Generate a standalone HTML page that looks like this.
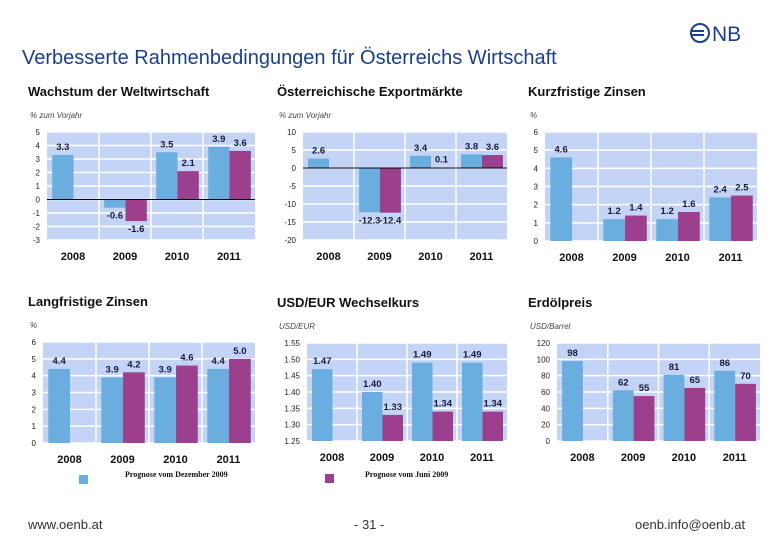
<!DOCTYPE html>
<html><head><meta charset="utf-8">
<style>
body{margin:0;background:#fff;}
#wrap{position:relative;width:780px;height:540px;overflow:hidden;font-family:"Liberation Sans",sans-serif;}
.t{position:absolute;white-space:nowrap;}
</style></head>
<body>
<div id="wrap">
<div class="t" style="left:22px;top:47px;font-size:20px;color:#1b3f8f;">Verbesserte Rahmenbedingungen für Österreichs Wirtschaft</div>
<svg style="position:absolute;left:688px;top:20px" width="70" height="26">
<circle cx="12" cy="13" r="9" fill="none" stroke="#1b3f8f" stroke-width="2"/>
<line x1="4" y1="11" x2="16" y2="11" stroke="#1b3f8f" stroke-width="2"/><line x1="4" y1="15" x2="16" y2="15" stroke="#1b3f8f" stroke-width="2"/>
<text x="24" y="21" font-family="Liberation Sans" font-size="21" fill="#1b3f8f">NB</text></svg>
<svg id="charts" width="780" height="540" style="position:absolute;left:0;top:0"></svg>
<div class="t" style="left:28px;top:517px;font-size:13px;color:#333;">www.oenb.at</div>
<div class="t" style="left:354px;top:517px;font-size:13px;color:#333;">- 31 -</div>
<div class="t" style="left:635px;top:517px;font-size:13px;color:#333;">oenb.info@oenb.at</div>
</div>
<script>
const years=["2008","2009","2010","2011"];
const c1Blue=[3.3,-0.6,3.5,3.9];const c1Purple=[null,-1.6,2.1,3.6];const c1Ticks=[5,4,3,2,1,0,-1,-2,-3];
const c2Blue=[2.6,-12.3,3.4,3.8];const c2Purple=[null,-12.4,0.1,3.6];const c2Ticks=[10,5,0,-5,-10,-15,-20];
const c3Blue=[4.6,1.2,1.2,2.4];const c3Purple=[null,1.4,1.6,2.5];const c3Ticks=[6,5,4,3,2,1,0];
const c4Blue=[4.4,3.9,3.9,4.4];const c4Purple=[null,4.2,4.6,5.0];const c4Ticks=[6,5,4,3,2,1,0];
const c5Blue=[1.47,1.40,1.49,1.49];const c5Purple=[null,1.33,1.34,1.34];const c5Ticks=[1.55,1.50,1.45,1.40,1.35,1.30,1.25];
const c6Blue=[98,62,81,86];const c6Purple=[null,55,65,70];const c6Ticks=[120,100,80,60,40,20,0];
const charts=[
{name:"wachstum-weltwirtschaft",title:"Wachstum der Weltwirtschaft",unit:"% zum Vorjahr",x0:47,x1:255,y0:132,y1:240,blue:c1Blue,purple:c1Purple,ticks:c1Ticks,fmt:1,tx:28},
{name:"exportmaerkte",title:"Österreichische Exportmärkte",unit:"% zum Vorjahr",x0:303,x1:507,y0:132,y1:240,blue:c2Blue,purple:c2Purple,ticks:c2Ticks,fmt:1,tx:277},
{name:"kurzfristige-zinsen",title:"Kurzfristige Zinsen",unit:"%",x0:545,x1:757,y0:132,y1:241,blue:c3Blue,purple:c3Purple,ticks:c3Ticks,fmt:1,tx:528},
{name:"langfristige-zinsen",title:"Langfristige Zinsen",unit:"%",x0:43,x1:255,y0:342,y1:443,blue:c4Blue,purple:c4Purple,ticks:c4Ticks,fmt:1,tx:28},
{name:"usd-eur-wechselkurs",title:"USD/EUR Wechselkurs",unit:"USD/EUR",x0:307,x1:507,y0:343,y1:441,blue:c5Blue,purple:c5Purple,ticks:c5Ticks,fmt:2,tx:277},
{name:"erdoelpreis",title:"Erdölpreis",unit:"USD/Barrel",x0:557,x1:760,y0:343,y1:441,blue:c6Blue,purple:c6Purple,ticks:c6Ticks,fmt:0,tx:528}];
const NS="http://www.w3.org/2000/svg";const svg=document.getElementById('charts');
function mk(tag,at,parent){const e=document.createElementNS(NS,tag);for(const k in at)e.setAttribute(k,at[k]);(parent||svg).appendChild(e);return e;}
function txt(s,at,parent){const e=mk('text',at,parent);e.textContent=s;return e;}
charts.forEach(c=>{
 const g=mk('g',{});
 
 
 const vmax=c.ticks[0],vmin=c.ticks[c.ticks.length-1];
 const y=v=>c.y0+(vmax-v)/(vmax-vmin)*(c.y1-c.y0);
 const cw=(c.x1-c.x0)/4;const x=i=>c.x0+i*cw;
 const tt=txt(c.title,{x:c.tx,y:c.y0-36,'font-size':13,'font-weight':'bold',fill:'#111'},g);
 
 
 const ut=txt(c.unit,{x:c.tx+2,y:c.y0-14,'font-size':8,'font-style':'italic',fill:'#444'},g);
 
 
 mk('rect',{x:c.x0,y:c.y0,width:c.x1-c.x0,height:c.y1-c.y0,fill:'#c3d4f6'},g);
 c.ticks.forEach(t=>{
  mk('line',{x1:c.x0,x2:c.x1,y1:y(t),y2:y(t),stroke:'#fff','stroke-width':1.5},g);
  const l=txt(t.toFixed(c.fmt===2?2:0),{x:c.x0-7,y:y(t)+3,'font-size':8,'text-anchor':'end',fill:'#222'},g);
  
  
 });
 for(let i=1;i<4;i++)mk('line',{x1:x(i),x2:x(i),y1:c.y0,y2:c.y1,stroke:'#fff','stroke-width':1.5},g);
 const base=vmin<0&&vmax>0?0:vmin;
 const bw=cw*0.41;
 years.forEach((yr,i)=>{
  [[c.blue[i],'#6aaee0',0],[c.purple[i],'#9c3f8c',1]].forEach(([v,col,k])=>{
   if(v===null)return;
   const bx=x(i)+cw*0.1+k*bw;const ya=y(v),yb=y(base);
   const r=mk('rect',{x:bx,y:Math.min(ya,yb),width:bw,height:Math.abs(yb-ya),fill:col},g);
   
   
   const ly=v>=base?ya-5:ya+11;
   const l=txt(v.toFixed(c.fmt),{x:bx+bw/2,y:ly,'font-size':9.5,'font-weight':'bold','text-anchor':'middle',fill:'#1a1a3a'},g);
   
   
  });
  const yl=txt(yr,{x:x(i)+cw/2,y:c.y1+20,'font-size':11,'font-weight':'bold','text-anchor':'middle',fill:'#111'},g);
  
  
 });
 if(vmin<0&&vmax>0)mk('line',{x1:c.x0,x2:c.x1,y1:y(0),y2:y(0),stroke:'#000','stroke-width':1},g);
});
const lg1=mk('rect',{x:79,y:475,width:9,height:9,fill:'#6aaee0'});


const lt1=txt('Prognose vom Dezember 2009',{x:125,y:477,'font-size':8,'font-weight':'bold','font-family':'Liberation Serif',fill:'#111'});


const lg2=mk('rect',{x:325,y:474,width:9,height:9,fill:'#9c3f8c'});


const lt2=txt('Prognose vom Juni 2009',{x:365,y:477,'font-size':8,'font-weight':'bold','font-family':'Liberation Serif',fill:'#111'});


</script>
</body></html>
